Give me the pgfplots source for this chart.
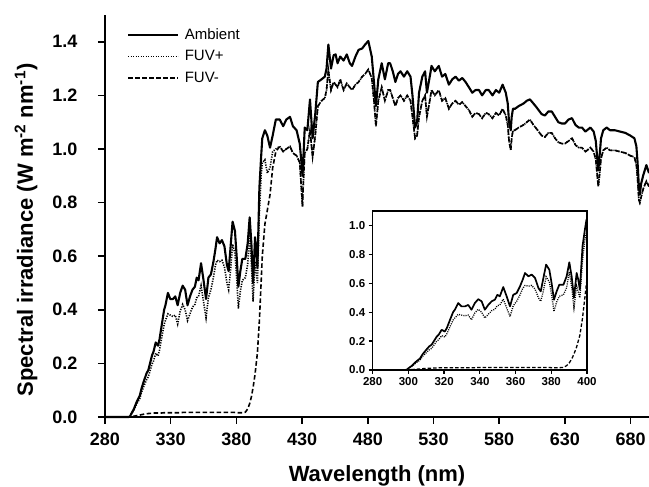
\documentclass[border=0pt]{standalone}
\usepackage{fontspec}
\setmainfont{Liberation Sans}
\usepackage{pgfplots}
\usepackage{pgfplotstable}
\pgfplotsset{compat=1.18}

\pgfplotstableread{
nm amb fp fm
280 0 0 0
298 0 0 0
299 0.002 0.002 0
300 0.012 0.010 0.001
302 0.03 0.026 0.003
304 0.055 0.047 0.005
306.5 0.08 0.069 0.007
308 0.11 0.095 0.009
310 0.14 0.12 0.011
311.7 0.164 0.14 0.012
313 0.175 0.15 0.013
315.8 0.23 0.198 0.014
317 0.245 0.21 0.015
318.6 0.278 0.238 0.015
320.4 0.266 0.228 0.015
321.5 0.29 0.25 0.015
323.3 0.347 0.30 0.015
325 0.40 0.345 0.016
326 0.417 0.36 0.016
327.9 0.463 0.385 0.016
329.7 0.44 0.38 0.016
331.6 0.44 0.375 0.016
333.5 0.45 0.38 0.016
335.3 0.417 0.347 0.016
337.2 0.463 0.395 0.016
339.1 0.49 0.42 0.017
341 0.475 0.40 0.017
342.8 0.417 0.36 0.017
344.7 0.45 0.385 0.017
346.6 0.475 0.41 0.017
348.4 0.486 0.42 0.017
349.8 0.52 0.445 0.017
351.2 0.51 0.45 0.017
353.1 0.574 0.49 0.017
355 0.51 0.43 0.017
356.9 0.44 0.37 0.017
358.7 0.52 0.445 0.017
360.6 0.532 0.475 0.017
362.5 0.579 0.52 0.017
364 0.625 0.565 0.017
365.3 0.671 0.585 0.017
367.2 0.648 0.58 0.017
369 0.66 0.585 0.017
370.9 0.637 0.56 0.017
372.8 0.567 0.50 0.017
374.1 0.544 0.475 0.017
375.6 0.637 0.55 0.017
377.1 0.729 0.645 0.017
378.9 0.694 0.61 0.017
380.2 0.60 0.52 0.016
381.5 0.486 0.405 0.016
383 0.544 0.47 0.016
384.5 0.59 0.51 0.016
386.8 0.59 0.52 0.018
388.6 0.648 0.57 0.03
390.1 0.745 0.68 0.05
391.4 0.648 0.575 0.075
392.7 0.50 0.43 0.11
394.2 0.671 0.58 0.16
395.1 0.625 0.54 0.20
396 0.556 0.50 0.24
397.5 0.856 0.76 0.36
398.8 0.97 0.90 0.50
399.7 1.04 0.95 0.60
401.7 1.07 0.96 0.72
403.5 1.05 0.91 0.77
405.6 1.005 0.93 0.83
407.6 1.05 0.99 0.93
410 1.11 1.00 0.99
413 1.11 1.01 1.01
415.6 1.085 0.99 0.99
418 1.11 1.00 1.00
420.8 1.12 1.01 1.01
423 1.085 0.985 0.985
425.8 1.07 0.975 0.975
428.2 1.02 0.95 0.95
429.5 0.95 0.85 0.85
430.3 0.90 0.785 0.785
431 0.97 0.88 0.88
432 1.08 0.985 0.985
434 1.07 1.0 1.0
436 1.185 1.07 1.07
438 1.04 0.97 0.97
440 1.13 1.05 1.05
442 1.25 1.16 1.16
444.8 1.26 1.18 1.18
447.3 1.27 1.19 1.19
448.6 1.30 1.22 1.22
450 1.39 1.295 1.295
452 1.30 1.22 1.22
454 1.35 1.25 1.25
455.5 1.353 1.24 1.24
457 1.32 1.23 1.23
459 1.345 1.26 1.26
461.6 1.33 1.22 1.22
464 1.353 1.245 1.245
466.3 1.32 1.23 1.23
468 1.31 1.22 1.22
470.6 1.345 1.24 1.24
473 1.37 1.25 1.25
475.7 1.375 1.27 1.27
478 1.39 1.28 1.28
480.4 1.403 1.297 1.297
483 1.345 1.265 1.265
484.7 1.25 1.18 1.18
486.2 1.16 1.085 1.085
488 1.26 1.18 1.18
490.6 1.32 1.23 1.23
493 1.26 1.18 1.18
495.5 1.32 1.22 1.22
497 1.32 1.22 1.22
499 1.29 1.19 1.19
501 1.25 1.16 1.16
503 1.28 1.19 1.19
504.9 1.29 1.20 1.20
507.5 1.27 1.18 1.18
510 1.29 1.20 1.20
512.5 1.27 1.18 1.18
514 1.20 1.12 1.12
516 1.08 1.04 1.04
517.5 1.10 1.05 1.05
519 1.21 1.12 1.12
521.5 1.27 1.18 1.18
523.6 1.29 1.20 1.20
525 1.21 1.12 1.12
527.5 1.28 1.19 1.19
528.5 1.31 1.22 1.22
531 1.29 1.20 1.20
534 1.31 1.22 1.22
536.5 1.27 1.18 1.18
539 1.28 1.19 1.19
541.7 1.24 1.15 1.15
544.3 1.26 1.17 1.17
546.8 1.27 1.18 1.18
549.3 1.255 1.165 1.165
551.9 1.265 1.175 1.175
554.4 1.25 1.16 1.16
557 1.23 1.145 1.145
559.5 1.21 1.12 1.12
562 1.22 1.135 1.135
564.6 1.22 1.13 1.13
567 1.20 1.115 1.115
569.8 1.22 1.135 1.135
572 1.22 1.13 1.13
574.9 1.20 1.115 1.115
577.5 1.22 1.135 1.135
580 1.21 1.125 1.125
582.6 1.24 1.15 1.15
585 1.21 1.125 1.125
586.5 1.17 1.09 1.09
587.5 1.10 1.03 1.03
588.8 1.07 0.995 0.995
589.5 1.12 1.04 1.04
590.5 1.15 1.07 1.07
592 1.15 1.07 1.07
594.8 1.16 1.08 1.08
598.6 1.17 1.09 1.09
601 1.18 1.10 1.10
603.4 1.185 1.11 1.11
606 1.17 1.09 1.09
608.5 1.155 1.075 1.075
612.3 1.13 1.05 1.05
614.8 1.125 1.045 1.045
617.4 1.14 1.06 1.06
620 1.14 1.06 1.06
622.5 1.12 1.04 1.04
625 1.10 1.025 1.025
627.7 1.095 1.02 1.02
630 1.095 1.02 1.02
632.8 1.11 1.03 1.03
635.4 1.115 1.04 1.04
638 1.09 1.015 1.015
640.5 1.08 1.005 1.005
643 1.08 1.005 1.005
645.6 1.065 0.99 0.99
649.4 1.08 1.005 1.005
651.9 1.065 0.99 0.99
653.5 1.03 0.96 0.96
655.4 0.92 0.86 0.86
656.5 0.98 0.91 0.91
657.5 1.04 0.965 0.965
659.2 1.07 0.995 0.995
661.8 1.08 1.005 1.005
664.3 1.07 0.995 0.995
668 1.07 0.995 0.995
672 1.065 0.99 0.99
676 1.06 0.985 0.985
679.8 1.05 0.975 0.975
682.9 1.04 0.97 0.97
684.4 1.01 0.94 0.94
685.3 0.95 0.89 0.89
686.3 0.86 0.81 0.81
687 0.83 0.80 0.80
688 0.87 0.82 0.82
689.5 0.90 0.85 0.85
692 0.94 0.88 0.88
694 0.91 0.86 0.86
}\spectra

\begin{document}
\begin{tikzpicture}[x=1pt,y=1pt]
\path[use as bounding box] (-105,-70) rectangle (544,417);
\begin{axis}[
  at={(0pt,0pt)}, anchor=south west,
  scale only axis, width=544pt, height=402pt,
  xmin=280, xmax=694, ymin=0, ymax=1.5,
  axis x line*=bottom, axis y line*=left,
  xtick={280,330,380,430,480,530,580,630,680},
  ytick={0,0.2,0.4,0.6,0.8,1.0,1.2,1.4},
  /pgf/number format/assume math mode=true,
  tick align=outside, major tick length=7pt,
  tick style={line width=1.6pt, black},
  axis line style={line width=1.8pt},
  ticklabel style={font=\fontsize{18}{18}\selectfont\bfseries},
  xticklabel style={yshift=-5pt},
  yticklabel style={xshift=-17pt, /pgf/number format/fixed, /pgf/number format/fixed zerofill, /pgf/number format/precision=1},
  xlabel={Wavelength (nm)},
  every axis x label/.style={at={(axis description cs:0.5,0)}, anchor=base, yshift=-64.7pt,
    font=\fontsize{22}{22}\selectfont\bfseries},
  ylabel={Spectral irradiance (W m\textsuperscript{-2} nm\textsuperscript{-1})},
  every axis y label/.style={at={(axis description cs:-0.1452,0.4652)}, rotate=90, anchor=center,
    font=\fontsize{22}{22}\selectfont\bfseries},
  legend image code/.code={\draw[#1] (0pt,0pt) -- (50pt,0pt); \path (54pt,0pt);},
  legend style={at={(axis description cs:0,1)}, anchor=north west, xshift=22pt, yshift=-12pt, draw=none, fill=none, inner sep=0pt,
    font=\fontsize{15}{15}\selectfont, row sep=6.5pt, nodes={inner sep=1.5pt, anchor=west}},
  legend cell align=left,
  clip=false,
]
\addplot[black, line width=2.1pt, line join=round] table[x=nm,y=amb]{\spectra};
\addplot[black, line width=1.6pt, dash pattern=on 1.2pt off 1.3pt] table[x=nm,y=fp]{\spectra};
\addplot[black, line width=1.6pt, dash pattern=on 4.5pt off 2.5pt] table[x=nm,y=fm]{\spectra};
\legend{Ambient, FUV+, FUV-}
\end{axis}
\begin{axis}[
  at={(267.7pt,47pt)}, anchor=south west,
  scale only axis, width=214.3pt, height=159pt,
  xmin=280, xmax=400, ymin=0, ymax=1.1,
  xtick={280,300,320,340,360,380,400},
  ytick={0,0.2,0.4,0.6,0.8,1.0},
  xtick pos=bottom, ytick pos=left,
  yticklabel style={/pgf/number format/fixed, /pgf/number format/fixed zerofill, /pgf/number format/precision=1},
  /pgf/number format/assume math mode=true,
  tick align=outside, major tick length=4pt,
  tick style={line width=1.3pt, black},
  axis line style={line width=1.6pt},
  ticklabel style={font=\fontsize{11.5}{11.5}\selectfont\bfseries},
]
\addplot[black, line width=1.7pt, line join=round] table[x=nm,y=amb]{\spectra};
\addplot[black, line width=1.3pt, dash pattern=on 1pt off 1.2pt] table[x=nm,y=fp]{\spectra};
\addplot[black, line width=1.3pt, dash pattern=on 3.5pt off 2pt] table[x=nm,y=fm]{\spectra};
\end{axis}
\end{tikzpicture}
\end{document}
